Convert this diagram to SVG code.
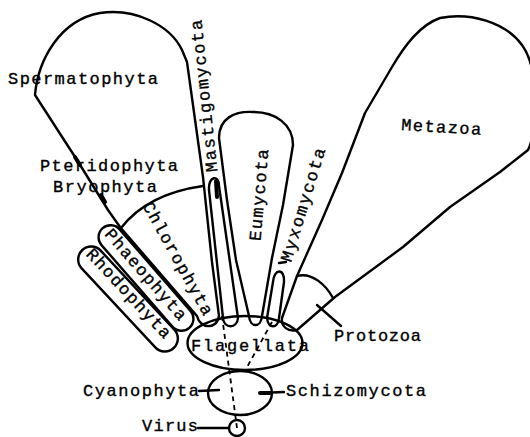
<svg xmlns="http://www.w3.org/2000/svg" width="530" height="437" viewBox="0 0 530 437">
<style>
.o{fill:none;stroke:#000;stroke-width:2.4;stroke-linejoin:round;stroke-linecap:round}
.th{fill:none;stroke:#000;stroke-width:4;stroke-linecap:round}
.d{fill:none;stroke:#000;stroke-width:1.8;stroke-dasharray:5 4}
.t{font-family:"Liberation Mono","DejaVu Sans Mono",monospace;font-size:17px;fill:#000;stroke:#000;stroke-width:0.35}
.r{text-anchor:middle;dominant-baseline:central}
</style>
<rect width="530" height="437" fill="#fff"/>
<g id="plants">
<path class="o" d="M35,95 C38,60 60,20 100,13 C135,8 170,25 182,50 L187,62 L203,177 L212,262 L219,316 C217,330 200,329 197,316 L120,227 L108,210 L77,160 Z"/>
<path class="o" d="M121,228 C135,210 160,192 203,186"/>
<path class="th" d="M75,157 L80,165 M101,195 L105,202"/>
<text class="t" x="8" y="84" textLength="150">Spermatophyta</text>
<text class="t" x="40" y="171" textLength="138">Pteridophyta</text>
<text class="t" x="53" y="192" textLength="104">Bryophyta</text>
<text class="t r" transform="translate(177,259) rotate(61)" textLength="127">Chlorophyta</text>
</g>
<g id="phaeophyta">
<rect class="o" x="-66" y="-12" width="132" height="24" rx="12" transform="translate(146,278) rotate(49)"/>
<text class="t r" transform="translate(145,275) rotate(49)" textLength="115">Phaeophyta</text>
</g>
<g id="rhodophyta">
<rect class="o" x="-67" y="-13" width="134" height="26" rx="13" transform="translate(128,299) rotate(47)"/>
<text class="t r" transform="translate(128,294) rotate(47)" textLength="116">Rhodophyta</text>
</g>
<g id="mastigomycota">
<path class="o" d="M223,318 L209,190 C208,176 219,174 219,186 L238,318 C237,329 224,329 223,318 Z"/>
<path class="th" d="M216,181 L217,197"/>
<text class="t r" transform="translate(205,96) rotate(-96)" textLength="153">Mastigomycota</text>
</g>
<g id="eumycota">
<path class="o" d="M249,316 L236,260 L227,200 L219,138 C219,118 235,111 253,112 C275,112 293,124 293,145 L283,205 L272,258 L262,316 C261,328 250,328 249,316 Z"/>
<text class="t r" transform="translate(260,195) rotate(-85)" textLength="92">Eumycota</text>
</g>
<g id="myxomycota">
<path class="o" d="M267,318 L273,282 C274,268 285,268 284,282 L279,318 C278,329 268,329 267,318 Z"/>
<path class="o" d="M279,263 L286,262"/>
<text class="t r" transform="translate(304,205) rotate(-73)" textLength="118">Myxomycota</text>
</g>
<g id="metazoa">
<path class="o" d="M282,318 L297,276 L322,220 L342,173 L365,113 L392,67 C405,45 420,25 440,18 C470,12 505,22 522,45 C540,70 538,130 528,150 L500,172 L450,207 L403,247 L335,297 L297,330 C288,332 281,327 282,318 Z"/>
<text class="t" x="401" y="130" textLength="80" transform="rotate(3.5 401 130)">Metazoa</text>
</g>
<g id="protozoa">
<path class="o" d="M297,276 C312,272 326,285 333,298"/>
<text class="t" x="334" y="341" textLength="87">Protozoa</text>
</g>
<g id="flagellata">
<ellipse class="o" cx="245" cy="343" rx="57.5" ry="27"/>
<text class="t" x="191" y="351" textLength="118">Flagellata</text>
</g>
<g id="schizomycota">
<ellipse class="o" cx="240" cy="393" rx="32" ry="22"/>
</g>
<g id="virus">
<circle class="o" cx="237" cy="428" r="8"/>
<text class="t" x="142" y="431" textLength="56">Virus</text>
</g>
<g id="connectors">
<path class="d" d="M222,316 L237,428"/>
<path class="d" d="M272,322 L246,369"/>
<path class="o" d="M317,305 L341,326"/>
<path class="o" d="M199,391 L219,390"/>
<path class="o" d="M284,392 L260,393"/>
<path class="th" d="M270,393 L260,393"/>
<path class="o" d="M198,428 L229,428"/>
<text class="t" x="83" y="396" textLength="116">Cyanophyta</text>
<text class="t" x="286" y="396" textLength="140">Schizomycota</text>
</g>
</svg>
